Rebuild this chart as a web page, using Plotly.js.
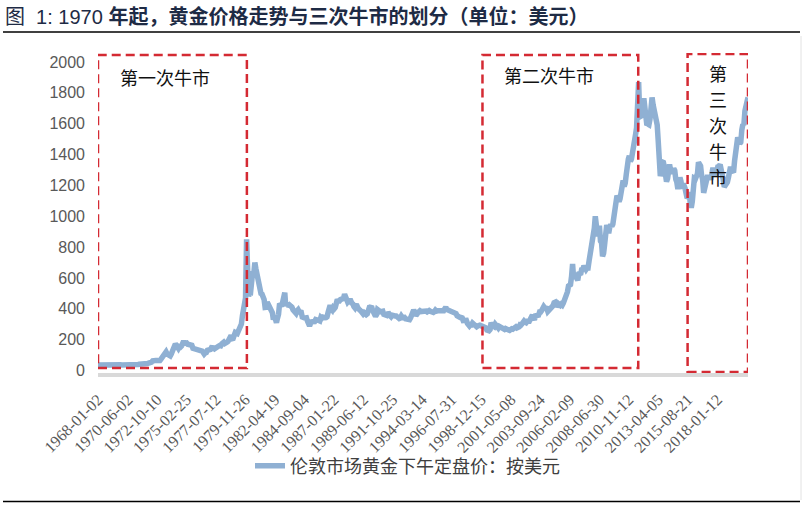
<!DOCTYPE html>
<html><head><meta charset="utf-8">
<script src="https://cdn.plot.ly/plotly-3.0.1.min.js"></script>
<style>html,body{margin:0;padding:0;background:#fff;}#chart{width:805px;height:532px;}</style>
</head><body><div id="chart"></div>
<script>
// Monthly London PM gold fix (USD/oz)
const gold1968_1979 = [
 35.0, 35.2, 38.0, 38.0, 41.0, 41.0, 39.5, 39.3, 39.5, 39.3, 41.0, 41.1,
 42.5, 42.7, 43.5, 43.3, 43.5, 41.4, 42.0, 41.0, 40.8, 40.4, 37.4, 35.2,
 34.9, 35.0, 35.1, 35.6, 35.9, 35.4, 35.3, 35.4, 36.2, 37.5, 37.4, 37.4,
 37.9, 38.7, 38.9, 39.0, 40.5, 40.1, 41.0, 42.7, 42.0, 42.5, 42.9, 43.5,
 45.7, 48.3, 48.3, 49.0, 54.6, 62.1, 65.7, 67.0, 65.5, 64.9, 62.9, 63.9,
 65.1, 74.2, 84.4, 90.5, 102.0, 120.1, 120.4, 106.8, 103.0, 100.1, 94.6, 106.7,
 129.2, 150.2, 168.4, 172.2, 163.3, 154.1, 143.0, 154.6, 151.8, 158.8, 181.7, 190.0,
 176.3, 179.6, 178.2, 170.1, 167.2, 164.2, 165.1, 163.1, 144.1, 142.8, 142.8, 139.3,
 131.6, 131.0, 132.6, 128.4, 127.5, 125.8, 117.4, 107.0, 114.2, 116.4, 130.7, 133.6,
 132.3, 136.4, 148.4, 149.4, 146.9, 140.9, 143.3, 144.9, 149.5, 158.6, 162.6, 160.5,
 173.0, 178.0, 183.7, 175.3, 176.3, 183.1, 188.1, 206.1, 212.4, 227.3, 206.1, 207.8,
 227.3, 245.7, 242.1, 239.2, 257.6, 279.1, 294.7, 300.8, 355.1, 391.7, 392.5, 470.0
];
const gold1980_1989 = [
 850, 665, 480, 517, 513, 600, 644, 627, 700, 661, 623, 594,
 557, 500, 499, 495, 480, 461, 409, 410, 443, 427, 414, 410,
 384, 374, 330, 350, 334, 310, 339, 364, 435, 422, 415, 444,
 481, 505, 420, 432, 438, 413, 422, 416, 411, 394, 382, 388,
 371, 387, 394, 381, 377, 378, 347, 348, 341, 340, 341, 320,
 303, 290, 304, 325, 316, 317, 317, 330, 324, 326, 325, 322,
 345, 339, 346, 340, 342, 343, 348, 376, 418, 423, 398, 391,
 408, 401, 409, 438, 460, 450, 450, 460, 460, 465, 467, 495,
 477, 443, 444, 452, 451, 452, 437, 432, 414, 406, 420, 419,
 404, 388, 390, 384, 371, 367, 375, 365, 362, 367, 394, 409
];
const gold1990_1999 = [
 410, 417, 394, 375, 369, 352, 362, 395, 390, 380, 381, 378,
 384, 364, 363, 358, 357, 367, 368, 356, 349, 359, 360, 361,
 354, 354, 345, 338, 337, 340, 353, 343, 345, 344, 335, 334,
 329, 330, 330, 342, 367, 372, 392, 379, 355, 364, 374, 383,
 387, 382, 384, 377, 381, 386, 385, 380, 391, 389, 384, 379,
 379, 377, 382, 391, 385, 387, 386, 383, 383, 383, 386, 387,
 400, 410, 396, 393, 392, 385, 383, 387, 383, 381, 378, 369,
 355, 347, 352, 344, 344, 341, 324, 324, 323, 325, 306, 289,
 289, 297, 296, 308, 299, 292, 293, 284, 289, 296, 294, 291,
 287, 287, 286, 282, 277, 262, 256, 257, 265, 311, 293, 283
];
const gold2000_2009 = [
 284, 300, 286, 280, 275, 286, 282, 274, 274, 270, 266, 272,
 265, 262, 263, 260, 272, 270, 268, 273, 283, 283, 276, 276,
 282, 296, 294, 302, 314, 321, 314, 310, 319, 317, 319, 333,
 357, 359, 340, 328, 355, 356, 351, 359, 379, 379, 389, 407,
 414, 405, 406, 403, 383, 392, 398, 400, 405, 420, 439, 442,
 424, 423, 434, 429, 422, 430, 424, 437, 456, 469, 476, 510,
 549, 555, 557, 610, 690, 596, 633, 632, 599, 585, 627, 629,
 631, 665, 655, 679, 667, 655, 665, 665, 712, 754, 806, 803,
 889, 922, 1000, 909, 888, 889, 939, 839, 829, 740, 760, 816,
 858, 943, 924, 890, 928, 946, 934, 949, 996, 1043, 1127, 1134
];
const gold2010_2020 = [
 1118, 1095, 1113, 1148, 1205, 1232, 1193, 1215, 1271, 1343, 1370, 1391,
 1356, 1372, 1424, 1473, 1510, 1528, 1572, 1800, 1870, 1665, 1739, 1652,
 1656, 1765, 1675, 1649, 1591, 1598, 1594, 1630, 1745, 1770, 1722, 1685,
 1671, 1628, 1592, 1485, 1414, 1260, 1286, 1352, 1349, 1316, 1275, 1225,
 1244, 1300, 1336, 1299, 1288, 1279, 1311, 1296, 1239, 1222, 1176, 1200,
 1251, 1227, 1179, 1199, 1199, 1181, 1131, 1117, 1125, 1157, 1085, 1055,
 1097, 1199, 1246, 1242, 1260, 1276, 1350, 1341, 1326, 1266, 1238, 1152,
 1192, 1234, 1231, 1266, 1246, 1260, 1237, 1283, 1315, 1280, 1282, 1265,
 1331, 1331, 1325, 1335, 1303, 1282, 1238, 1190, 1198, 1215, 1221, 1250,
 1291, 1320, 1300, 1285, 1284, 1359, 1413, 1500, 1511, 1495, 1471, 1480,
 1560, 1597, 1591, 1683, 1715, 1732, 1770
];
const tickDates = ['1968-01-02','1970-06-02','1972-10-10','1975-02-25','1977-07-12','1979-11-26',
 '1982-04-19','1984-09-04','1987-01-22','1989-06-12','1991-10-25','1994-03-14','1996-07-31',
 '1998-12-15','2001-05-08','2003-09-24','2006-02-09','2008-06-30','2010-11-12','2013-04-05',
 '2015-08-21','2018-01-12'];
const yTicks = [0,200,400,600,800,1000,1200,1400,1600,1800,2000];
const seriesName = '伦敦市场黄金下午定盘价：按美元';
const titleText = '图&nbsp;&nbsp;1: 1970 <b>年起，黄金价格走势与三次牛市的划分（单位：美元）</b>';
const bullLabels = ['第一次牛市','第二次牛市','第三次牛市'];
const bullPeriods = [['1968-01-01','1980-01-10'],['1999-01-20','2011-08-20'],['2015-08-15','2020-07-01']];

const gold = [].concat(gold1968_1979, gold1980_1989, gold1990_1999, gold2000_2009, gold2010_2020);
const dates = gold.map((v,i)=>{
  const y = 1968 + Math.floor(i/12), m = (i%12)+1;
  return y + '-' + (m<10?'0':'') + m + '-01';
});

const L=98, R=748, T=53, B=373;
const pX = px => (px-L)/(R-L);
const pY = py => (B-py)/(B-T);

const red = '#d42a33';
const boxLine = {color: red, width: 2.5, dash: '9px,5px'};
const shapes = [
  {type:'rect', xref:'x', yref:'y', x0:bullPeriods[0][0], x1:bullPeriods[0][1], y0:16, y1:2045, line:boxLine},
  {type:'rect', xref:'x', yref:'y', x0:bullPeriods[1][0], x1:bullPeriods[1][1], y0:16, y1:2045, line:boxLine},
  {type:'rect', xref:'x', yref:'y', x0:bullPeriods[2][0], x1:bullPeriods[2][1], y0:-10, y1:2052, line:boxLine},
  {type:'line', xref:'paper', yref:'paper', x0:pX(3), x1:pX(800), y0:pY(32), y1:pY(32), line:{color:'#000', width:1.5}},
  {type:'line', xref:'paper', yref:'paper', x0:pX(3), x1:pX(800), y0:pY(501.5), y1:pY(501.5), line:{color:'#000', width:1.5}},
  {type:'line', xref:'paper', yref:'paper', x0:pX(801), x1:pX(801), y0:pY(36), y1:pY(500), line:{color:'#e2e2e2', width:1}}
];
const lblFont = {family:'Noto Sans CJK SC', size:18, color:'#111'};
const annotations = [
  {xref:'paper', yref:'paper', x:pX(164.5), y:pY(77), text:bullLabels[0], showarrow:false, font:lblFont, xanchor:'center', yanchor:'middle'},
  {xref:'paper', yref:'paper', x:pX(548.5), y:pY(75), text:bullLabels[1], showarrow:false, font:lblFont, xanchor:'center', yanchor:'middle'}
];
const vChars = bullLabels[2].split('');
const vY = [73, 99, 125, 151, 177];
vChars.forEach((c,i)=>annotations.push({xref:'paper', yref:'paper', x:pX(718), y:pY(vY[i]), text:c, showarrow:false, font:lblFont, xanchor:'center', yanchor:'middle'}));

const trace = {
  x: dates, y: gold, type:'scatter', mode:'lines', name: seriesName,
  line: {color:'#8fb0d3', width:5.5}, hoverinfo:'skip'
};

const layout = {
  width:805, height:532,
  margin:{l:L, r:805-R, t:T, b:532-B, pad:0},
  paper_bgcolor:'#fff', plot_bgcolor:'#fff',
  title:{text:titleText, x:5/805, xanchor:'left', y:1-17/532, yanchor:'middle',
         font:{family:'Liberation Sans, Noto Sans CJK SC', size:20, color:'#1e2b45'}},
  xaxis:{type:'date', range:['1968-01-01','2020-07-01'], tickvals:tickDates, ticktext:tickDates,
         tickangle:-45, showgrid:false, zeroline:false, showline:true, linecolor:'#d9d9d9', linewidth:4,
         ticks:'', ticklabelstandoff:7,
         tickfont:{family:'Liberation Serif', size:16, color:'#595959'}},
  yaxis:{range:[-16.2, 2058.4], tickvals:yTicks, showgrid:false, zeroline:false, showline:false, ticks:'',
         ticklabelstandoff:12, tickfont:{family:'Liberation Sans', size:16, color:'#595959'}},
  showlegend:true,
  legend:{orientation:'h', x:pX(250), xanchor:'left', y:pY(466), yanchor:'middle',
          font:{family:'Noto Sans CJK SC', size:18, color:'#404040'}, bgcolor:'rgba(0,0,0,0)'},
  shapes: shapes,
  annotations: annotations
};
Plotly.newPlot('chart', [trace], layout, {displayModeBar:false, staticPlot:true});
</script>
</body></html>
